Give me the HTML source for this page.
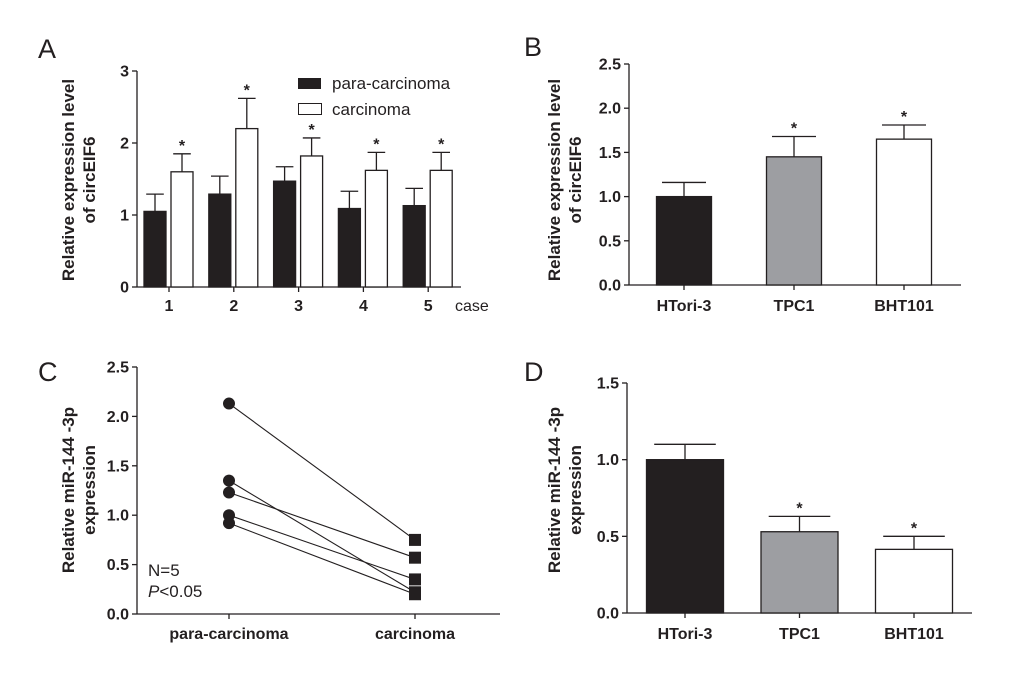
<!DOCTYPE html>
<html><head><meta charset="utf-8"><style>
body{margin:0;background:#fff}
svg{display:block;font-family:"Liberation Sans",Arial,sans-serif}
.t{font-weight:bold;font-size:16px;fill:#231f20}
.yt{font-weight:bold;font-size:17px;fill:#231f20}
.pl{font-size:27px;fill:#231f20}
</style></head><body>
<svg id="fig" width="1020" height="673" viewBox="0 0 1020 673">
<text class="pl" x="38" y="58">A</text>
<text class="pl" x="524" y="56">B</text>
<text class="pl" x="38" y="381">C</text>
<text class="pl" x="524" y="381">D</text>
<text class="yt" transform="translate(74,180) rotate(-90)" text-anchor="middle"><tspan x="0" dy="0">Relative expression level</tspan><tspan x="0" dy="21">of circEIF6</tspan></text>
<text class="yt" transform="translate(560,180) rotate(-90)" text-anchor="middle"><tspan x="0" dy="0">Relative expression level</tspan><tspan x="0" dy="21">of circEIF6</tspan></text>
<text class="yt" transform="translate(74,490) rotate(-90)" text-anchor="middle"><tspan x="0" dy="0">Relative miR-144 -3p</tspan><tspan x="0" dy="21">expression</tspan></text>
<text class="yt" transform="translate(560,490) rotate(-90)" text-anchor="middle"><tspan x="0" dy="0">Relative miR-144 -3p</tspan><tspan x="0" dy="21">expression</tspan></text>
<g>
<rect x="298" y="78" width="23" height="11" fill="#231f20"/>
<text x="332" y="89" font-size="17" fill="#231f20">para-carcinoma</text>
<rect x="298.5" y="103.5" width="23" height="11" fill="#fff" stroke="#231f20"/>
<text x="332" y="115" font-size="17" fill="#231f20">carcinoma</text>
</g>
<text x="148" y="576" font-size="17" fill="#231f20">N=5</text>
<text x="148" y="597" font-size="17" fill="#231f20"><tspan font-style="italic">P</tspan>&lt;0.05</text>
</svg>
<script>
// Panel A data
const casesA=['1','2','3','4','5'];
const paraA=[1.05,1.29,1.47,1.09,1.13];
const paraErrA=[0.24,0.25,0.2,0.24,0.24];
const carcA=[1.6,2.2,1.82,1.62,1.62];
const carcErrA=[0.25,0.42,0.25,0.25,0.25];
const ticksA=[0,1,2,3];
// Panel B data
const cellsB=['HTori-3','TPC1','BHT101'];
const valsB=[1.0,1.45,1.65];
const errB=[0.16,0.23,0.16];
const sigB=[false,true,true];
const ticksB=['0.0','0.5','1.0','1.5','2.0','2.5'];
// Panel C data
const groupsC=['para-carcinoma','carcinoma'];
const paraC=[2.13,1.35,1.23,1.0,0.92];
const carcC=[0.75,0.22,0.57,0.35,0.2];
const ticksC=['0.0','0.5','1.0','1.5','2.0','2.5'];
// Panel D data
const cellsD=['HTori-3','TPC1','BHT101'];
const valsD=[1.0,0.53,0.415];
const errD=[0.1,0.1,0.085];
const sigD=[false,true,true];
const ticksD=['0.0','0.5','1.0','1.5'];

const svg=document.getElementById('fig');
const NS='http://www.w3.org/2000/svg';
const C='#231f20';
function mk(tag,attrs,parent){const e=document.createElementNS(NS,tag);for(const k in attrs)e.setAttribute(k,attrs[k]);(parent||svg).appendChild(e);return e;}
function line(x1,y1,x2,y2,p,w){return mk('line',{x1,y1,x2,y2,stroke:C,'stroke-width':w||1.3},p);}
function txt(s,x,y,cls,anchor,p,size){const t=mk('text',{x,y,class:cls,'text-anchor':anchor||'middle'},p);if(size)t.setAttribute('font-size',size);t.textContent=s;return t;}

function yAxis(g,x0,y0,y1,xEnd,ticks,max){
  const sy=v=>y0-(v/max)*(y0-y1);
  const ax=line(x0,y1,x0,y0,g);
  
  
  const xa=line(x0,y0,xEnd,y0,g);
  
  
  ticks.forEach(t=>{const v=parseFloat(t);line(x0-5,sy(v),x0,sy(v),g);
    const l=txt(String(t),x0-8,sy(v)+5.5,'t','end',g);
    
    });
  return sy;
}
function bar(g,cx,w,v,e,fill,sy,y0,sig,name,starSize){
  const top=sy(v);
  line(cx,top,cx,sy(v+e),g);line(cx-w*0.4,sy(v+e),cx+w*0.4,sy(v+e),g);
  const r=mk('rect',{x:cx-w/2,y:top,width:w,height:y0-top,fill:fill,stroke:C,'stroke-width':1.3},g);
  
  
  if(sig){const s=txt('*',cx,sy(v+e)-3,'t','middle',g,starSize||16);
    
    }
}

// Panel A
(function(){
  const g=mk('g',{});
  
  
  const x0=137,y0=287,y1=71;
  const sy=yAxis(g,x0,y0,y1,461,ticksA,3);
  const step=64.8,first=169;
  casesA.forEach((c,i)=>{const cx=first+i*step;
    line(cx,y0,cx,y0+5,g);
    const l=txt(c,cx,y0+24,'t','middle',g,17);
    
    
    bar(g,cx-14,22,paraA[i],paraErrA[i],C,sy,y0,false,'bar-para-case'+c);
    bar(g,cx+13,22,carcA[i],carcErrA[i],'#fff',sy,y0,true,'bar-carcinoma-case'+c);
  });
  const cs=txt('case',455,y0+24,'','start',g,16);cs.setAttribute('fill',C);
  
  
})();

function cellPanel(name,cells,vals,errs,sigs,ticks,max,x0,y0,y1,xEnd,first,step,w,star){
  const g=mk('g',{});
  
  
  const sy=yAxis(g,x0,y0,y1,xEnd,ticks,max);
  const fills=[C,'#9d9ea2','#fff'];
  cells.forEach((c,i)=>{const cx=first+i*step;
    bar(g,cx,w,vals[i],errs[i],fills[i],sy,y0,sigs[i],'bar-'+c.toLowerCase(),star);
    line(cx,y0,cx,y0+5,g);
    const l=txt(c,cx,y0+26,'t','middle',g,18);
    
    });
}
cellPanel('panel-b-chart',cellsB,valsB,errB,sigB,ticksB,2.5,629,285,64,961,684,110,55,17);
cellPanel('panel-d-chart',cellsD,valsD,errD,sigD,ticksD,1.5,627,613,383,972,685,114.5,77,24);

// Panel C
(function(){
  const g=mk('g',{});
  
  
  const x0=137,y0=614,y1=367;
  const sy=yAxis(g,x0,y0,y1,500,ticksC,2.5);
  const xs=[229,415];
  groupsC.forEach((gr,i)=>{line(xs[i],y0,xs[i],y0+5,g);
    const l=txt(gr,xs[i],y0+25,'t','middle',g,17);
    
    });
  paraC.forEach((v,i)=>{
    const l=line(xs[0],sy(v),xs[1],sy(carcC[i]),g,1.1);
    
    
  });
  paraC.forEach(v=>{const c=mk('circle',{cx:xs[0],cy:sy(v),r:6,fill:C},g);
    
    });
  carcC.forEach(v=>{const r=mk('rect',{x:xs[1]-6,y:sy(v)-6,width:12,height:12,fill:C},g);
    
    });
})();
</script>
</body></html>
